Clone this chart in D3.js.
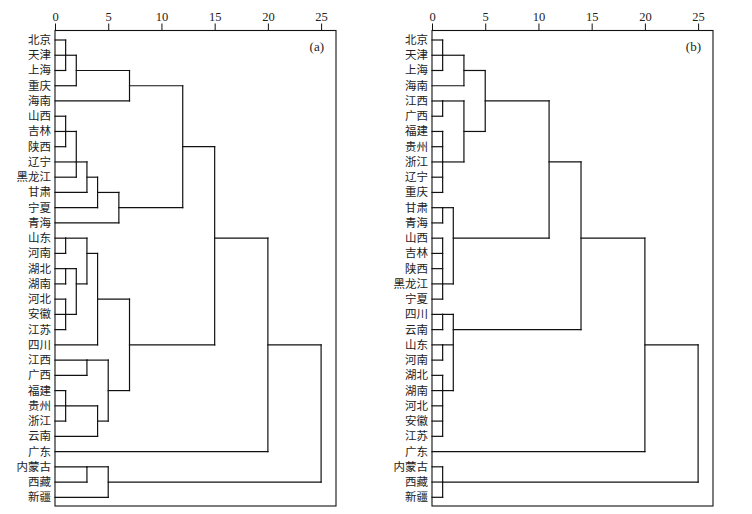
<!DOCTYPE html>
<html>
<head>
<meta charset="utf-8">
<script src="https://cdn.jsdelivr.net/npm/d3@7"></script>
<style>
  body { margin: 0; background: #fff; }
  svg { display: block; }
</style>
</head>
<body>
<svg id="chart" width="752" height="514"></svg>
<script>
// leaf order, top to bottom
var leavesA = ["北京", "天津", "上海", "重庆", "海南", "山西", "吉林", "陕西", "辽宁", "黑龙江",
    "甘肃", "宁夏", "青海", "山东", "河南", "湖北", "湖南", "河北", "安徽", "江苏", "四川",
    "江西", "广西", "福建", "贵州", "浙江", "云南", "广东", "内蒙古", "西藏", "新疆"];
var leavesB = ["北京", "天津", "上海", "海南", "江西", "广西", "福建", "贵州", "浙江", "辽宁",
    "重庆", "甘肃", "青海", "山西", "吉林", "陕西", "黑龙江", "宁夏", "四川", "云南", "山东",
    "河南", "湖北", "湖南", "河北", "安徽", "江苏", "广东", "内蒙古", "西藏", "新疆"];

// merges: [distance, row the cluster line leaves from, ...members]
// a member is a leaf name or the index of an earlier merge
var mergesA = [
    [1, "天津", "北京", "天津", "上海"],      // 0
    [2, "上海", 0, "重庆"],                    // 1
    [7, "重庆", 1, "海南"],                    // 2
    [1, "吉林", "山西", "吉林", "陕西"],      // 3
    [2, "辽宁", 3, "辽宁", "黑龙江"],          // 4
    [3, "黑龙江", 4, "甘肃"],                  // 5
    [4, "甘肃", 5, "宁夏"],                    // 6
    [6, "宁夏", 6, "青海"],                    // 7
    [12, "陕西", 2, 7],                        // 8
    [1, "山东", "山东", "河南"],              // 9
    [1, "湖北", "湖北", "湖南"],              // 10
    [1, "安徽", "河北", "安徽", "江苏"],      // 11
    [2, "湖南", 10, 11],                       // 12
    [3, "河南", 9, 12],                        // 13
    [4, "河北", 13, "四川"],                   // 14
    [3, "江西", "江西", "广西"],              // 15
    [1, "贵州", "福建", "贵州", "浙江"],      // 16
    [4, "浙江", 16, "云南"],                   // 17
    [5, "福建", 15, 17],                       // 18
    [7, "四川", 14, 18],                       // 19
    [15, "山东", 8, 19],                       // 20
    [3, "内蒙古", "内蒙古", "西藏"],          // 21
    [5, "西藏", 21, "新疆"],                   // 22
    [20, "四川", 20, "广东"],                  // 23
    [25, null, 23, 22]                         // 24
];
var mergesB = [
    [1, "天津", "北京", "天津", "上海"],                  // 0
    [3, "上海", 0, "海南"],                                // 1
    [1, "江西", "江西", "广西"],                          // 2
    [1, "浙江", "福建", "贵州", "浙江", "辽宁", "重庆"],  // 3
    [3, "福建", 2, 3],                                     // 4
    [5, "江西", 1, 4],                                     // 5
    [1, "甘肃", "甘肃", "青海"],                          // 6
    [1, "黑龙江", "山西", "吉林", "陕西", "黑龙江", "宁夏"], // 7
    [2, "山西", 6, 7],                                     // 8
    [11, "浙江", 5, 8],                                    // 9
    [1, "四川", "四川", "云南"],                          // 10
    [1, "山东", "山东", "河南"],                          // 11
    [1, "湖南", "湖北", "湖南", "河北", "安徽", "江苏"],  // 12
    [2, "云南", 10, 11, 12],                               // 13
    [14, "山西", 9, 13],                                   // 14
    [20, "山东", 14, "广东"],                              // 15
    [1, "西藏", "内蒙古", "西藏", "新疆"],                // 16
    [25, null, 15, 16]                                     // 17
];
var ticks = [0, 5, 10, 15, 20, 25];
var panelTags = ["(a)", "(b)"];

var svg = d3.select("#chart");

function panel(left, leaves, merges, tag) {
    var x = d3.scaleLinear().domain([0, 26.4]).range([left, left + 281]);
    var y = d3.scalePoint().domain(leaves).range([40, 497.3]);
    var g = svg.append("g");

    g.append("rect")
        .attr("x", x(0)).attr("y", 30.5)
        .attr("width", x(26.4) - x(0)).attr("height", 475.5)
        .attr("fill", "none").attr("stroke", "#111").attr("stroke-width", 1.1);

    var axis = g.append("g")
        .attr("transform", "translate(0,30.5)")
        .call(d3.axisTop(x).tickValues(ticks).tickSize(7).tickSizeOuter(0).tickPadding(3));
    axis.select(".domain").remove();
    axis.selectAll("line").attr("stroke", "#111");
    axis.selectAll("text")
        .attr("font-family", "'Liberation Serif', 'Times New Roman', serif")
        .attr("font-size", 12.5).attr("fill", "#222");

    g.append("text")
        .attr("x", x(0) + 269).attr("y", 51)
        .attr("text-anchor", "end")
        .attr("font-family", "'Liberation Serif', 'Times New Roman', serif")
        .attr("font-size", 13).attr("fill", "#222")
        .text(tag);

    g.selectAll(".leaf")
        .data(leaves)
        .enter().append("text")
        .attr("class", "leaf")
        .attr("x", x(0) - 4)
        .attr("y", function(d) { return y(d) + 4; })
        .attr("text-anchor", "end")
        .attr("font-family", "'Noto Sans CJK SC', sans-serif")
        .attr("font-size", 11.5).attr("fill", "#222")
        .text(function(d) { return d; });

    function member(c) {
        if (typeof c === "number") return { h: merges[c][0], row: merges[c][1] };
        return { h: 0, row: c };
    }

    var segs = [];
    merges.forEach(function(m) {
        var kids = m.slice(2).map(member);
        kids.forEach(function(k) {
            segs.push([x(k.h), y(k.row), x(m[0]), y(k.row)]);
        });
        var ys = kids.map(function(k) { return y(k.row); });
        segs.push([x(m[0]), d3.min(ys), x(m[0]), d3.max(ys)]);
    });

    g.selectAll(".seg")
        .data(segs)
        .enter().append("line")
        .attr("class", "seg")
        .attr("x1", function(d) { return d[0]; })
        .attr("y1", function(d) { return d[1]; })
        .attr("x2", function(d) { return d[2]; })
        .attr("y2", function(d) { return d[3]; })
        .attr("stroke", "#111")
        .attr("stroke-width", 1.2)
        .attr("stroke-linecap", "square");
}

panel(55, leavesA, mergesA, panelTags[0]);
panel(432, leavesB, mergesB, panelTags[1]);
</script>
</body>
</html>
